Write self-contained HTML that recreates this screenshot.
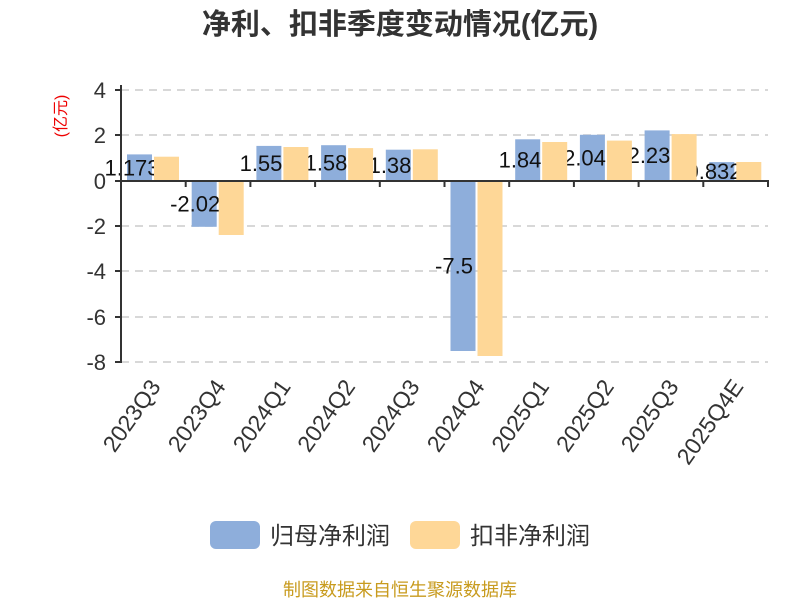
<!DOCTYPE html>
<html><head><meta charset="utf-8"><style>body{margin:0;background:#fff}svg{display:block}</style></head>
<body>
<svg width="800" height="600" xmlns="http://www.w3.org/2000/svg" font-family="'Liberation Sans','Noto Sans CJK SC',sans-serif">
<text x="400" y="34" text-anchor="middle" font-size="29" font-weight="bold" fill="#333">净利、扣非季度变动情况(亿元)</text>
<text transform="translate(66,116) rotate(-90)" text-anchor="middle" font-size="16" fill="#e00">(亿元)</text>
<g stroke="#ccc" stroke-width="1.5" stroke-dasharray="8,6">
<line x1="121" y1="90" x2="768" y2="90"/><line x1="121" y1="135" x2="768" y2="135"/>
<line x1="121" y1="226" x2="768" y2="226"/><line x1="121" y1="271" x2="768" y2="271"/>
<line x1="121" y1="317" x2="768" y2="317"/><line x1="121" y1="362" x2="768" y2="362"/>
</g>
<g font-size="22" fill="#333" text-anchor="end">
<text x="106" y="98">4</text><text x="106" y="143">2</text><text x="106" y="189">0</text>
<text x="106" y="234">-2</text><text x="106" y="279">-4</text><text x="106" y="325">-6</text><text x="106" y="370">-8</text>
</g>
<g fill="#8eaedb">
<rect x="127" y="154.4" width="25" height="26.6"/>
<rect x="191.7" y="181" width="25" height="45.8"/>
<rect x="256.4" y="145.9" width="25" height="35.1"/>
<rect x="321.1" y="145.2" width="25" height="35.8"/>
<rect x="385.8" y="149.7" width="25" height="31.3"/>
<rect x="450.5" y="181" width="25" height="170"/>
<rect x="515.2" y="139.3" width="25" height="41.7"/>
<rect x="579.9" y="134.8" width="25" height="46.2"/>
<rect x="644.6" y="130.4" width="25" height="50.6"/>
<rect x="709.3" y="162.1" width="25" height="18.9"/>
</g>
<g font-size="22" fill="#111" text-anchor="middle">
<text x="132" y="175.5">1.173</text>
<text x="195.2" y="211.5">-2.02</text>
<text x="261" y="171">1.55</text>
<text x="326" y="170.5">1.58</text>
<text x="390" y="173">1.38</text>
<text x="454" y="273.5">-7.5</text>
<text x="520" y="167.5">1.84</text>
<text x="584.5" y="165.5">2.04</text>
<text x="649" y="163">2.23</text>
<text x="714" y="179">0.832</text>
</g>
<g fill="#fed797">
<rect x="154" y="156.7" width="25" height="24.3"/>
<rect x="218.7" y="181" width="25" height="54"/>
<rect x="283.4" y="147" width="25" height="34"/>
<rect x="348.1" y="148.1" width="25" height="32.9"/>
<rect x="412.8" y="149.3" width="25" height="31.7"/>
<rect x="477.5" y="181" width="25" height="175"/>
<rect x="542.2" y="142" width="25" height="39"/>
<rect x="606.9" y="140.6" width="25" height="40.4"/>
<rect x="671.6" y="134.1" width="25" height="46.9"/>
<rect x="736.3" y="162" width="25" height="19"/>
</g>
<g stroke="#333" stroke-width="2">
<line x1="121" y1="85" x2="121" y2="363"/>
<line x1="115" y1="90" x2="121" y2="90"/><line x1="115" y1="135" x2="121" y2="135"/>
<line x1="115" y1="181" x2="121" y2="181"/><line x1="115" y1="226" x2="121" y2="226"/>
<line x1="115" y1="271" x2="121" y2="271"/><line x1="115" y1="317" x2="121" y2="317"/>
<line x1="115" y1="362" x2="121" y2="362"/>
<line x1="121" y1="181" x2="769" y2="181"/>
<line x1="185.7" y1="181" x2="185.7" y2="187"/><line x1="250.4" y1="181" x2="250.4" y2="187"/>
<line x1="315.1" y1="181" x2="315.1" y2="187"/><line x1="379.8" y1="181" x2="379.8" y2="187"/>
<line x1="444.5" y1="181" x2="444.5" y2="187"/><line x1="509.2" y1="181" x2="509.2" y2="187"/>
<line x1="573.9" y1="181" x2="573.9" y2="187"/><line x1="638.6" y1="181" x2="638.6" y2="187"/>
<line x1="703.3" y1="181" x2="703.3" y2="187"/><line x1="768" y1="181" x2="768" y2="187"/>
</g>
<g font-size="23" fill="#333" text-anchor="end" dominant-baseline="central">
<text transform="translate(155,382) rotate(-55)">2023Q3</text>
<text transform="translate(220,382) rotate(-55)">2023Q4</text>
<text transform="translate(285,382) rotate(-55)">2024Q1</text>
<text transform="translate(349.5,382) rotate(-55)">2024Q2</text>
<text transform="translate(414,382) rotate(-55)">2024Q3</text>
<text transform="translate(479,382) rotate(-55)">2024Q4</text>
<text transform="translate(543.6,382) rotate(-55)">2025Q1</text>
<text transform="translate(608.3,382) rotate(-55)">2025Q2</text>
<text transform="translate(673,382) rotate(-55)">2025Q3</text>
<text transform="translate(737.7,382) rotate(-55)">2025Q4E</text>
</g>
<rect x="210" y="521" width="50" height="28" rx="6" fill="#8eaedb"/>
<text x="270" y="544" font-size="24" fill="#333">归母净利润</text>
<rect x="410" y="521" width="50" height="28" rx="6" fill="#fed797"/>
<text x="470" y="544" font-size="24" fill="#333">扣非净利润</text>
<text x="400" y="596" text-anchor="middle" font-size="18" fill="#c89b1e">制图数据来自恒生聚源数据库</text>
</svg>
</body></html>
